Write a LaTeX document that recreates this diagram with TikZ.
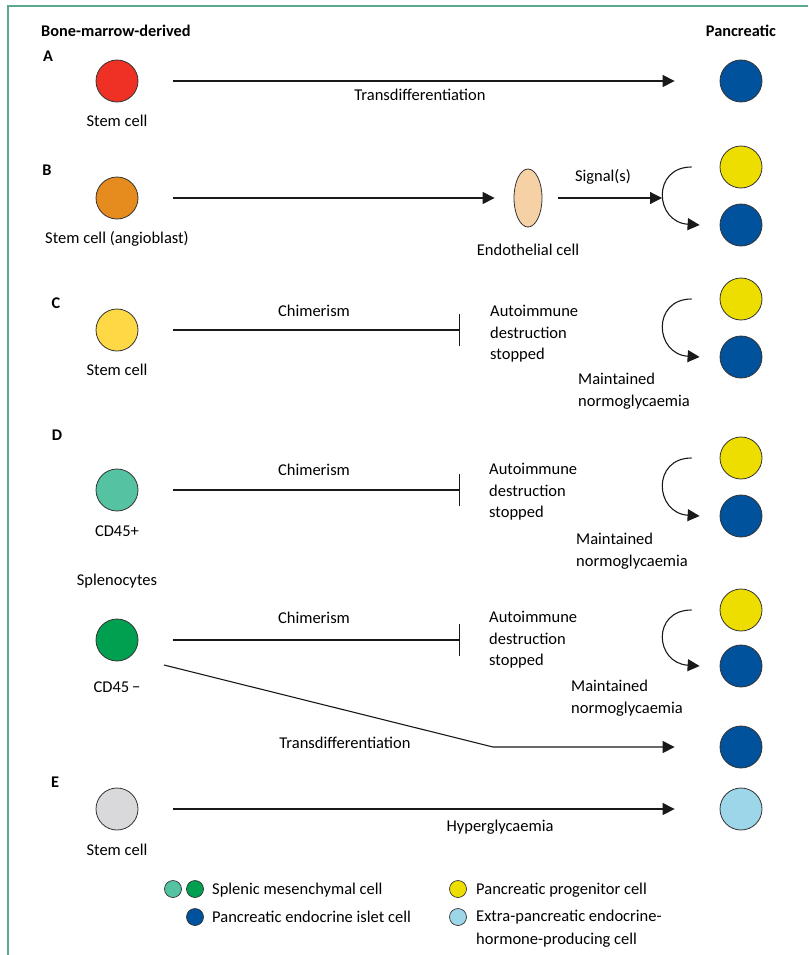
\documentclass[tikz,border=0pt]{standalone}
\usepackage{fontspec}
\setmainfont{Carlito}
\usetikzlibrary{arrows.meta,shapes.geometric}
\definecolor{cred}{HTML}{EE3124}
\definecolor{corange}{HTML}{E68C1E}
\definecolor{cstem}{HTML}{FFD945}
\definecolor{cteal}{HTML}{55C2A2}
\definecolor{cgreen}{HTML}{00A050}
\definecolor{cgray}{HTML}{D9D9DB}
\definecolor{cblue}{HTML}{00529C}
\definecolor{cyellow}{HTML}{EDDE00}
\definecolor{clblue}{HTML}{9DD5E9}
\definecolor{cendo}{HTML}{F7D1A6}
\definecolor{cborder}{HTML}{5BA88A}
\begin{document}
\begin{tikzpicture}[x=1pt,y=-1pt,
  cell/.style={circle,draw=black!80,line width=0.8pt,minimum size=42pt,inner sep=0pt},
  lg/.style={circle,draw=black!80,line width=0.7pt,minimum size=17pt,inner sep=0pt},
  txt/.style={font=\fontsize{16.5}{21.5}\selectfont,inner sep=0pt},
  ltxt/.style={font=\fontsize{16.5}{23}\selectfont,inner sep=0pt},
  hd/.style={font=\bfseries\fontsize{16.3}{18}\selectfont,inner sep=0pt},
  arr/.style={line width=1.1pt,draw=black!90,-{Triangle[length=12pt,width=12pt]}},
  inh/.style={line width=1.1pt,draw=black!90,-{Bar[width=32pt]}},
]
\useasboundingbox (0,0) rectangle (808,955);
\draw[cborder,line width=1.5pt] (8,955) -- (8,6) -- (808,6);

% headers
\node[hd,anchor=base west] (hbm) at (41,37) {Bone-marrow-derived};
\node[hd,anchor=base] (hpa) at (741,37) {Pancreatic};
\node[hd,anchor=base] (lA) at (48,62) {A};
\node[hd,anchor=base] (lB) at (47,175) {B};
\node[hd,anchor=base] (lC) at (56,308) {C};
\node[hd,anchor=base] (lD) at (57,440) {D};
\node[hd,anchor=base] (lE) at (55,787) {E};

% A
\node[cell,fill=cred] (sA) at (117,81) {};
\node[txt,anchor=base] (tsA) at (117,126) {Stem cell};
\node[cell,fill=cblue] (pA) at (741,81) {};
\draw[arr,shorten <=35pt,shorten >=45pt] (sA) -- (pA);
\node[txt,anchor=base] (trA) at (420,101) {Transdifferentiation};

% B
\node[cell,fill=corange] (sB) at (117,198) {};
\node[txt,anchor=base] (tsB) at (117,243) {Stem cell (angioblast)};
\node[ellipse,draw=black!80,line width=0.8pt,fill=cendo,minimum width=28pt,minimum height=58pt,inner sep=0pt] (eB) at (528,198) {};
\node[txt,anchor=base] (teB) at (528,255) {Endothelial cell};
\draw[arr,shorten <=35pt,shorten >=19pt] (sB) -- (eB);
\coordinate (sigE) at (662,198);
\draw[arr,shorten <=16pt] (eB) -- (sigE);
\node[txt,anchor=base] (tsig) at (603,181) {Signal(s)};
\node[cell,fill=cyellow] (yB) at (741,167) {};
\node[cell,fill=cblue] (bB) at (741,225) {};
\draw[arr] ([xshift=-28pt]yB.west) .. controls +(-40,0) and +(-45,-3) .. ([xshift=-20pt]bB.west);

% C
\node[cell,fill=cstem] (sC) at (117,330) {};
\node[txt,anchor=base] (tsC) at (117,375) {Stem cell};
\coordinate (barC) at (460,330);
\draw[inh,shorten <=35pt] (sC) -- (barC);
\node[txt,anchor=base] (chC) at (314,316) {Chimerism};
\node[txt,anchor=north west,align=left] (auC) at (490,305) {Autoimmune\\destruction\\stopped};
\node[cell,fill=cyellow] (yC) at (741,299) {};
\node[cell,fill=cblue] (bC) at (741,357) {};
\draw[arr] ([xshift=-28pt]yC.west) .. controls +(-40,0) and +(-45,-3) .. ([xshift=-20pt]bC.west);
\node[txt,anchor=north west,align=left] (mnC) at (578,373) {Maintained\\normoglycaemia};

% D (CD45+)
\node[cell,fill=cteal] (sD1) at (117,490) {};
\node[txt,anchor=base] (tsD1) at (117,536) {CD45+};
\node[txt,anchor=base] (tspl) at (117,585) {Splenocytes};
\coordinate (barD1) at (460,490);
\draw[inh,shorten <=35pt] (sD1) -- (barD1);
\node[txt,anchor=base] (chD1) at (314,475) {Chimerism};
\node[txt,anchor=north west,align=left] (auD1) at (489,463) {Autoimmune\\destruction\\stopped};
\node[cell,fill=cyellow] (yD1) at (741,458) {};
\node[cell,fill=cblue] (bD1) at (741,516) {};
\draw[arr] ([xshift=-28pt]yD1.west) .. controls +(-40,0) and +(-45,-3) .. ([xshift=-20pt]bD1.west);
\node[txt,anchor=north west,align=left] (mnD1) at (576,533) {Maintained\\normoglycaemia};

% D (CD45-)
\node[cell,fill=cgreen] (sD2) at (117,640) {};
\node[txt,anchor=base] (tsD2) at (117,692) {CD45\,−};
\coordinate (barD2) at (460,640);
\draw[inh,shorten <=35pt] (sD2) -- (barD2);
\node[txt,anchor=base] (chD2) at (314,623) {Chimerism};
\node[txt,anchor=north west,align=left] (auD2) at (489,611) {Autoimmune\\destruction\\stopped};
\node[cell,fill=cyellow] (yD2) at (741,610) {};
\node[cell,fill=cblue] (bD2) at (741,666) {};
\draw[arr] ([xshift=-28pt]yD2.west) .. controls +(-40,0) and +(-45,-3) .. ([xshift=-20pt]bD2.west);
\node[txt,anchor=north west,align=left] (mnD2) at (571,680) {Maintained\\normoglycaemia};
\node[cell,fill=cblue] (pD3) at (741,747) {};
\coordinate (tdBend) at (493,747);
\draw[arr] ([shift={(47,25)}]sD2.center) -- (tdBend) -- ([xshift=-45pt]pD3.west);
\node[txt,anchor=base] (trD) at (345,748) {Transdifferentiation};

% E
\node[cell,fill=cgray] (sE) at (117,809) {};
\node[txt,anchor=base] (tsE) at (117,855) {Stem cell};
\node[cell,fill=clblue] (pE) at (741,809) {};
\draw[arr,shorten <=35pt,shorten >=45pt] (sE) -- (pE);
\node[txt,anchor=base] (hyE) at (500,831) {Hyperglycaemia};

% legend
\node[lg,fill=cteal] (lg1) at (173,889) {};
\node[lg,fill=cgreen] (lg2) at (195,889) {};
\node[txt,anchor=base west] (lgt1) at (212,894) {Splenic mesenchymal cell};
\node[lg,fill=cblue] (lg3) at (195,917) {};
\node[txt,anchor=base west] (lgt3) at (212,922) {Pancreatic endocrine islet cell};
\node[lg,fill=cyellow] (lg4) at (458,889) {};
\node[txt,anchor=base west] (lgt4) at (476,894) {Pancreatic progenitor cell};
\node[lg,fill=clblue] (lg5) at (458,917) {};
\node[ltxt,anchor=north west,align=left] (lgt5) at (476,910) {Extra-pancreatic endocrine-\\hormone-producing cell};
\end{tikzpicture}
\end{document}
